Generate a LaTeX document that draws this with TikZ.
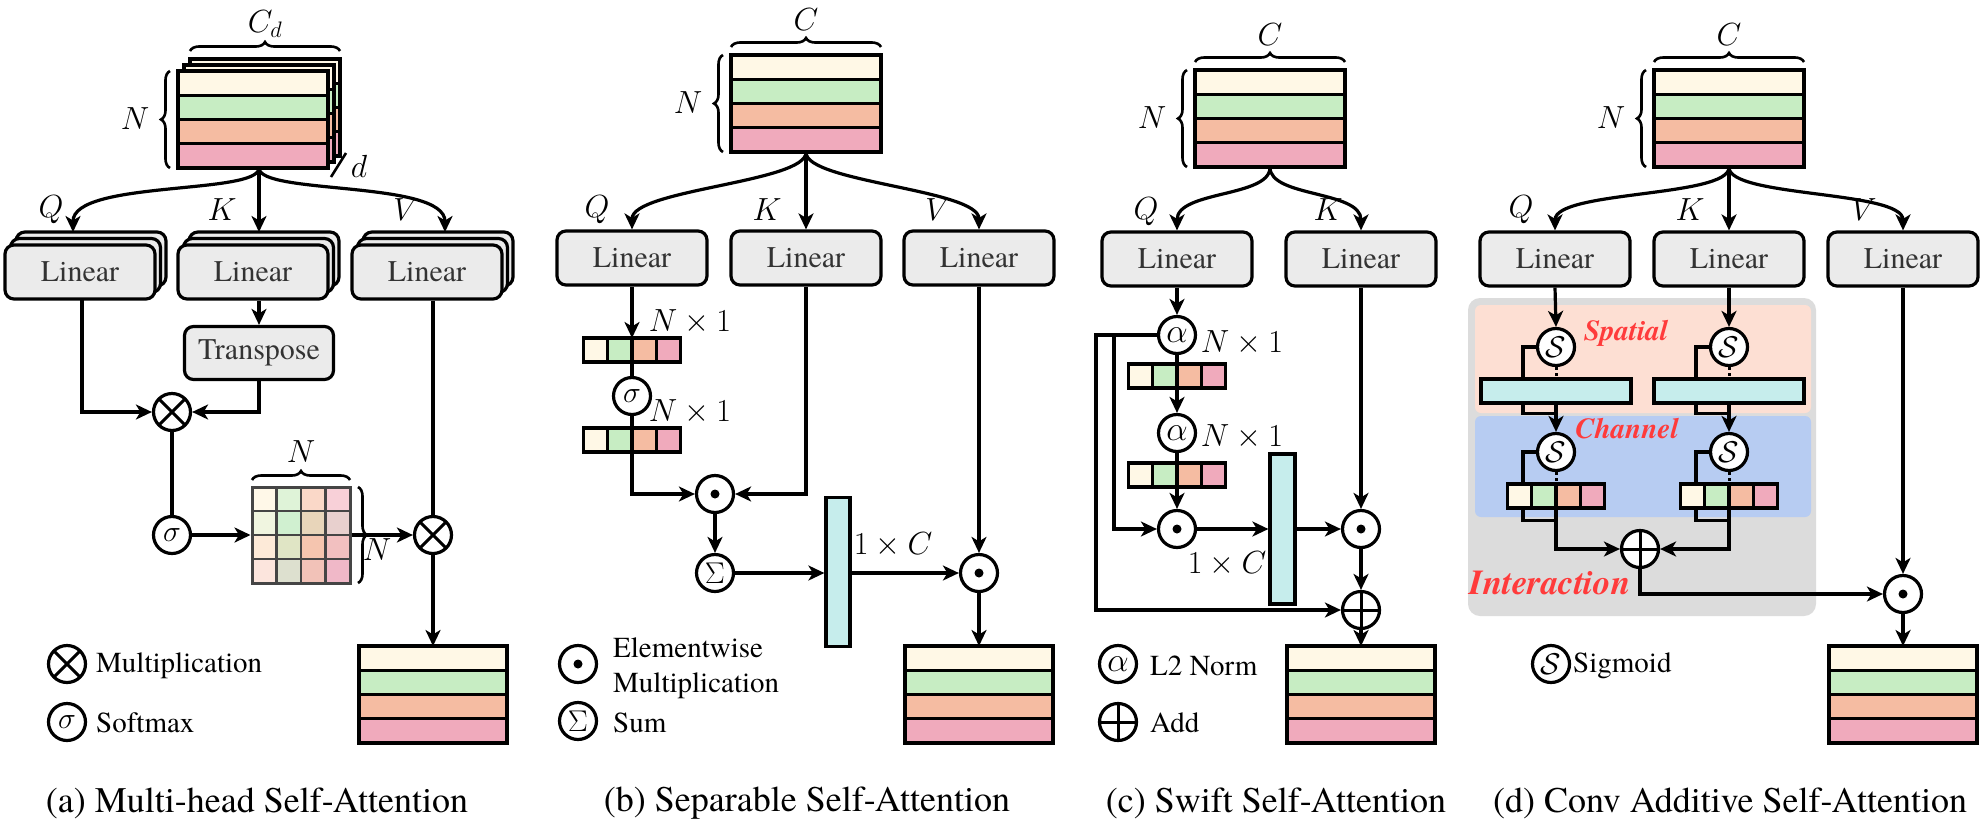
\RequirePackage{fix-cm}
\documentclass[tikz,border=0pt]{standalone}
\usepackage{fontspec}
\IfFontExistsTF{texgyretermes-regular.otf}{%
  \setmainfont{texgyretermes}[Extension=.otf,UprightFont=*-regular,BoldFont=*-bold,ItalicFont=*-italic,BoldItalicFont=*-bolditalic]%
}{%
  \setmainfont{Liberation Serif}%
}
\usetikzlibrary{arrows.meta,decorations.pathreplacing,calc}
\definecolor{cream}{HTML}{FFF8E6}
\definecolor{grn}{HTML}{C7EDC3}
\definecolor{orng}{HTML}{F5BCA2}
\definecolor{pnk}{HTML}{F0AABC}
\definecolor{cyanb}{HTML}{C6EDEC}
\definecolor{lingray}{HTML}{EBEBEB}
\definecolor{pgray}{HTML}{DCDCDC}
\definecolor{peach}{HTML}{FDDFD3}
\definecolor{chblue}{HTML}{B7CCF2}
\definecolor{redt}{HTML}{FF3B3B}
\definecolor{textgray}{HTML}{333333}
\definecolor{gridc}{HTML}{454545}
\definecolor{m11}{HTML}{FFF8E8}\definecolor{m12}{HTML}{DFF3D8}\definecolor{m13}{HTML}{FAD8C8}\definecolor{m14}{HTML}{F8D0D8}
\definecolor{m21}{HTML}{F0F5E0}\definecolor{m22}{HTML}{D0F0D0}\definecolor{m23}{HTML}{E8D5BA}\definecolor{m24}{HTML}{E8D0CE}
\definecolor{m31}{HTML}{FDEAD8}\definecolor{m32}{HTML}{E0E5C5}\definecolor{m33}{HTML}{F5C5AF}\definecolor{m34}{HTML}{F2C0C0}
\definecolor{m41}{HTML}{FCE5DD}\definecolor{m42}{HTML}{DDE0CF}\definecolor{m43}{HTML}{F2C2B8}\definecolor{m44}{HTML}{F0B8C8}
\newcommand\fsz[1]{\fontsize{#1}{#1}\selectfont}
\tikzset{
  ln/.style={line width=3.2pt},
  arr/.style={line width=3.2pt,-{Stealth[length=16pt,width=15pt,inset=4.5pt]}},
  dotl/.style={line width=3pt,dash pattern=on 3pt off 3pt},
  linbox/.style={draw,line width=3.2pt,rounded corners=9pt,fill=lingray,minimum width=150pt,minimum height=54pt,inner sep=0pt,font=\fsz{30},text=textgray},
  opc/.style={circle,draw,line width=3.2pt,minimum size=37pt,inner sep=0pt,fill=white,font=\fsz{30}},
  otim/.style={opc,path picture={
     \draw[black,line width=3pt] ([shift={(-14pt,-14pt)}]path picture bounding box.center) -- ([shift={(14pt,14pt)}]path picture bounding box.center);
     \draw[black,line width=3pt] ([shift={(-14pt,14pt)}]path picture bounding box.center) -- ([shift={(14pt,-14pt)}]path picture bounding box.center);}},
  oplus/.style={opc,path picture={
     \draw[black,line width=3pt] ([xshift=-20pt]path picture bounding box.center) -- ([xshift=20pt]path picture bounding box.center);
     \draw[black,line width=3pt] ([yshift=-20pt]path picture bounding box.center) -- ([yshift=20pt]path picture bounding box.center);}},
  odot/.style={opc,path picture={\fill[black] (path picture bounding box.center) circle (4.5pt);}},
  brc/.style={decorate,decoration={brace,amplitude=9pt},line width=2.6pt},
  mlab/.style={inner sep=0pt,font=\fsz{32}},
  legt/.style={inner sep=0pt,font=\fsz{29},anchor=west},
  capt/.style={inner sep=0pt,font=\fsz{36}},
  redl/.style={inner sep=0pt,text=redt,font=\fsz{29}\bfseries\itshape},
  tallr/.style={draw,line width=3.2pt,fill=cyanb,minimum width=25pt,minimum height=150pt,inner sep=0pt},
  flatr/.style={draw,line width=3.2pt,fill=cyanb,minimum width=150pt,minimum height=24pt,inner sep=0pt},
}
% tensor: name, center x, top y, width
\newcommand\tens[4]{%
  \foreach \tcol [count=\tidx from 0] in {cream,grn,orng,pnk}{%
    \filldraw[fill=\tcol,line width=3.4pt] ({#2-#4/2},{#3+\tidx*24.25}) rectangle ({#2+#4/2},{#3+(\tidx+1)*24.25});
  }%
  \node[inner sep=0pt,minimum width=#4pt,minimum height=97pt,anchor=north] (#1) at (#2,#3) {};
}
% small vector: name, center x, top y
\newcommand\tvec[3]{%
  \foreach \tcol [count=\tidx from 0] in {cream,grn,orng,pnk}{%
    \filldraw[fill=\tcol,line width=3.2pt] ({#2-48.5+\tidx*24.25},#3) rectangle ({#2-48.5+(\tidx+1)*24.25},{#3+24});
  }%
  \node[inner sep=0pt,minimum width=97pt,minimum height=24pt,anchor=north] (#1) at (#2,#3) {};
}
% stacked linear: name, cx, cy
\newcommand\stlin[3]{%
  \node[linbox] (#1c) at ({#2+11},{#3-13}) {};
  \node[linbox] (#1b) at ({#2+5.5},{#3-6.5}) {};
  \node[linbox] (#1) at (#2,#3) {Linear};
}
\begin{document}
\begin{tikzpicture}[x=1pt,y=-1pt]
\fill[white] (0,0) rectangle (1983,828);
\useasboundingbox (0,0) rectangle (1983,828);

% ================= (a) =================
\tens{taC}{265}{59}{150}
\tens{taB}{259}{65}{150}
\tens{ta}{253}{71}{150}
\draw[brc] (190,51) -- (340,51);
\node[mlab] (cdA) at (265,24) {$C_d$};
\draw[brc] (170,168) -- (170,71);
\node[mlab] (nA) at (135,119) {$N$};
\draw[line width=2.6pt] (331,177) -- (346,153);
\node[mlab] (dA) at (359,166) {$d$};

\stlin{qlA}{80}{272}
\stlin{klA}{253}{272}
\stlin{vlA}{427}{272}

\coordinate (aS) at (259,168);
\coordinate (aQ) at (73,232);
\coordinate (aK) at (259,232);
\coordinate (aV) at (445,232);
\draw[arr] (aS) .. controls (259,195) and (73,180) .. (aQ);
\draw[arr] (aS) -- (aK);
\draw[arr] (aS) .. controls (259,195) and (445,180) .. (aV);
\node[mlab] (qA) at (51,210) {$Q$};
\node[mlab] (kA) at (222,210) {$K$};
\node[mlab] (vA) at (406,210) {$V$};

\node[draw,line width=3.2pt,rounded corners=9pt,fill=lingray,minimum width=149pt,minimum height=53pt,inner sep=0pt,font=\fsz{30},text=textgray] (trA) at (259,353) {Transpose};
\node[otim] (mA) at (172,412) {};
\node[opc] (sgA) at (172,535) {$\sigma$};
\node[otim] (m2A) at (433,535) {};

% attention matrix
\foreach \r in {1,...,4}{\foreach \c in {1,...,4}{
  \fill[m\r\c] ({252+(\c-1)*24.5},{487+(\r-1)*24}) rectangle ({252+\c*24.5},{487+\r*24});
}}
\foreach \k in {1,2,3}{
  \draw[gridc,line width=2.6pt] ({252+\k*24.5},487) -- ({252+\k*24.5},583);
  \draw[gridc,line width=2.6pt] (252,{487+\k*24}) -- (350,{487+\k*24});
}
\node[draw=gridc,line width=3pt,minimum width=98pt,minimum height=96pt,inner sep=0pt] (matA) at (301,535) {};
\draw[brc] (252,480) -- (350,480);
\node[mlab] (nmA) at (301,452) {$N$};
\draw[brc] (358,487) -- (358,583);

\coordinate (qoA) at (82,299);
\draw[arr] (qoA) |- (mA.west);
\draw[arr] (klA.south -| trA.north) -- (trA.north);
\draw[arr] (trA.south) |- (mA.east);
\draw[ln] (mA.south) -- (sgA.north);
\draw[arr] (sgA.east) -- (matA.west);
\draw[arr] (matA.east) -- (m2A.west);
\node[mlab] (nm2A) at (377,550) {$N$};
\draw[ln] (vlA.south -| m2A.north) -- (m2A.north);
\tens{oA}{433}{646}{148}
\draw[arr] (m2A.south) -- (oA.north);

\node[otim] (lgmA) at (67,664) {};
\node[legt] (lgmtA) at (96,666) {Multiplication};
\node[opc] (lgsA) at (67,722) {$\sigma$};
\node[legt] (lgstA) at (96,723) {Softmax};
\node[capt] (capA) at (257,803) {(a) Multi-head Self-Attention};

% ================= (b) =================
\tens{tb}{806}{55}{150}
\draw[brc] (731,47) -- (881,47);
\node[mlab] (cB) at (806,20) {$C$};
\draw[brc] (723,152) -- (723,55);
\node[mlab] (nB) at (688,103) {$N$};

\node[linbox] (qlB) at (632,258) {Linear};
\node[linbox] (klB) at (806,258) {Linear};
\node[linbox] (vlB) at (979,258) {Linear};
\draw[arr] (tb.south) .. controls +(0,30) and +(0,-40) .. (qlB.north);
\draw[arr] (tb.south) -- (klB.north);
\draw[arr] (tb.south) .. controls +(0,30) and +(0,-40) .. (vlB.north);
\node[mlab] (qB) at (597,210) {$Q$};
\node[mlab] (kB) at (767,210) {$K$};
\node[mlab] (vB) at (938,210) {$V$};

\tvec{v1B}{632}{338}
\node[opc] (sgB) at (632,396) {$\sigma$};
\tvec{v2B}{632}{428}
\node[odot] (dB1) at (715,494) {};
\node[opc,font=\fsz{30}] (smB) at (715,573) {$\Sigma$};
\node[tallr,minimum width=24pt,minimum height=149pt] (rB) at (838,572) {};
\node[odot] (dB2) at (979,573) {};

\draw[arr] (qlB.south) -- (v1B.north);
\draw[ln] (v1B.south) -- (sgB.north);
\draw[arr] (sgB.south) |- (dB1.west);
\draw[arr] (klB.south) |- (dB1.east);
\draw[arr] (dB1.south) -- (smB.north);
\draw[arr] (smB.east) -- (smB.east -| rB.west);
\draw[arr] (smB.east -| rB.east) -- (dB2.west);
\draw[arr] (vlB.south) -- (dB2.north);
\node[mlab] (n1B) at (690,322) {$N\times 1$};
\node[mlab] (n2B) at (690,412) {$N\times 1$};
\node[mlab] (ocB) at (893,545) {$1\times C$};
\tens{oB}{979}{646}{148}
\draw[arr] (dB2.south) -- (oB.north);

\node[odot] (lgdB) at (578,664) {};
\node[legt] (lgdtB1) at (613,648) {Elementwise};
\node[legt] (lgdtB2) at (613,686) {Multiplication};
\node[opc,font=\fsz{30}] (lgsB) at (578,721) {$\Sigma$};
\node[legt] (lgstB) at (613,723) {Sum};
\node[capt] (capB) at (807,803) {(b) Separable Self-Attention};

% ================= (c) =================
\tens{tc}{1270}{70}{150}
\draw[brc] (1195,62) -- (1345,62);
\node[mlab] (cC) at (1270,35) {$C$};
\draw[brc] (1187,167) -- (1187,70);
\node[mlab] (nC) at (1152,118) {$N$};

\node[linbox] (qlC) at (1177,259) {Linear};
\node[linbox] (klC) at (1361,259) {Linear};
\draw[arr] (tc.south) .. controls +(0,30) and +(0,-40) .. (qlC.north);
\draw[arr] (tc.south) .. controls +(0,30) and +(0,-40) .. (klC.north);
\node[mlab] (qC) at (1146,212) {$Q$};
\node[mlab] (kC) at (1328,210) {$K$};

\node[opc,font=\fsz{34}] (a1C) at (1177,335) {$\alpha$};
\tvec{v1C}{1177}{364}
\node[opc,font=\fsz{34}] (a2C) at (1177,433) {$\alpha$};
\tvec{v2C}{1177}{463}
\node[odot] (dC1) at (1177,529) {};
\node[tallr] (rC) at (1282.5,529) {};
\node[odot] (dC2) at (1361,529) {};
\node[oplus] (pC) at (1361,610) {};

\draw[arr] (qlC.south) -- (a1C.north);
\draw[arr] (a1C.south) -- (a2C.north);
\draw[arr] (a2C.south) -- (dC1.north);
\coordinate (c1C) at (1096,335);
\coordinate (c2C) at (1114,335);
\draw[arr] (a1C.west) -- (c1C) |- (pC.west);
\draw[arr] (c2C) |- (dC1.west);
\draw[arr] (dC1.east) -- (dC1.east -| rC.west);
\draw[arr] (dC1.east -| rC.east) -- (dC2.west);
\draw[arr] (klC.south) -- (dC2.north);
\draw[arr] (dC2.south) -- (pC.north);
\node[mlab] (n1C) at (1242,343) {$N\times 1$};
\node[mlab] (n2C) at (1242,437) {$N\times 1$};
\node[mlab] (ocC) at (1227,564) {$1\times C$};
\tens{oC}{1361}{646}{148}
\draw[arr] (pC.south) -- (oC.north);

\node[opc,font=\fsz{34}] (lgaC) at (1118,664) {$\alpha$};
\node[legt] (lgatC) at (1150,666) {L2 Norm};
\node[oplus] (lgpC) at (1118,722) {};
\node[legt] (lgptC) at (1150,723) {Add};
\node[capt] (capC) at (1276,803) {(c) Swift Self-Attention};

% ================= (d) =================
\tens{td}{1729}{70}{150}
\draw[brc] (1654,62) -- (1804,62);
\node[mlab] (cD) at (1729,35) {$C$};
\draw[brc] (1646,167) -- (1646,70);
\node[mlab] (nD) at (1611,118) {$N$};

\node[linbox] (qlD) at (1555,259) {Linear};
\node[linbox] (klD) at (1729,259) {Linear};
\node[linbox] (vlD) at (1903,259) {Linear};
\draw[arr] (td.south) .. controls +(0,30) and +(0,-40) .. (qlD.north);
\draw[arr] (td.south) -- (klD.north);
\draw[arr] (td.south) .. controls +(0,30) and +(0,-40) .. (vlD.north);
\node[mlab] (qD) at (1521,210) {$Q$};
\node[mlab] (kD) at (1690,210) {$K$};
\node[mlab] (vD) at (1864,210) {$V$};

\fill[pgray,rounded corners=12pt] (1468,298) rectangle (1816,616);
\fill[peach,rounded corners=6pt] (1475,305) rectangle (1811,413);
\fill[chblue,rounded corners=6pt] (1475,416) rectangle (1811,517);

\node[opc] (s1L) at (1556,347) {$\mathcal{S}$};
\node[opc] (s1R) at (1729,347) {$\mathcal{S}$};
\node[flatr] (rL) at (1556,391) {};
\node[flatr] (rR) at (1729,391) {};
\node[opc] (s2L) at (1556,452) {$\mathcal{S}$};
\node[opc] (s2R) at (1729,452) {$\mathcal{S}$};
\tvec{vL}{1556}{484}
\tvec{vR}{1729}{484}
\node[oplus] (pD) at (1640,549) {};
\node[odot] (dD) at (1903,594) {};

\draw[arr] (qlD.south) -- (s1L.north);
\draw[arr] (klD.south) -- (s1R.north);
\foreach \sa/\ra/\sb/\va in {s1L/rL/s2L/vL, s1R/rR/s2R/vR}{
  \draw[ln] (\sa.west) -| ($(\ra.north)+(-33,0)$);
  \draw[dotl] (\sa.south) -- (\ra.north);
  \draw[ln] ($(\ra.south)+(-33,0)$) |- ($(\ra.south)+(0,9)$);
  \draw[arr] (\ra.south) -- (\sb.north);
  \draw[ln] (\sb.west) -| ($(\va.north)+(-33,0)$);
  \draw[dotl] (\sb.south) -- (\va.north);
  \draw[ln] ($(\va.south)+(-33,0)$) |- ($(\va.south)+(0,12)$);
}
\draw[arr] (vL.south) |- (pD.west);
\draw[arr] (vR.south) |- (pD.east);
\draw[arr] (pD.south) |- (dD.west);
\draw[arr] (vlD.south) -- (dD.north);
\node[redl] (spD) at (1626,333) {Spatial};
\node[redl] (chD) at (1627,429) {Channel};
\node[redl,font=\fsz{35}\bfseries\itshape] (inD) at (1550,583) {Interaction};
\tens{oD}{1903}{646}{148}
\draw[arr] (dD.south) -- (oD.north);

\node[opc] (lgsD) at (1551,664) {$\mathcal{S}$};
\node[legt] (lgstD) at (1573,666) {Sigmoid};
\node[capt] (capD) at (1730,803) {(d) Conv Additive Self-Attention};
\end{tikzpicture}
\end{document}
